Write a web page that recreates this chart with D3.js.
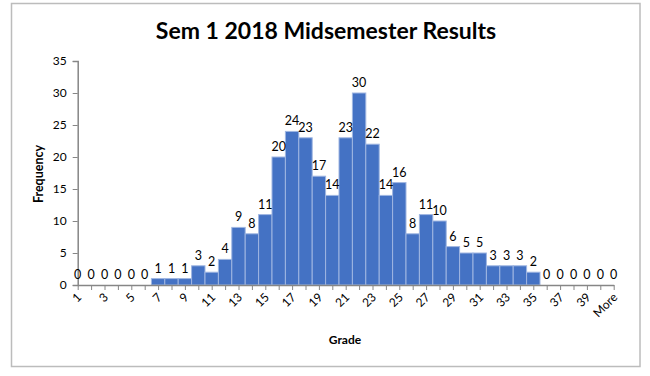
<!DOCTYPE html>
<html><head><meta charset="utf-8">
<script src="https://cdn.jsdelivr.net/npm/d3@7"></script>
<style>body{margin:0;background:#fff}</style>
</head><body><svg id="c" width="650" height="376"></svg>
<script>
const categories = ["1","2","3","4","5","6","7","8","9","10","11","12","13","14","15","16","17","18","19","20","21","22","23","24","25","26","27","28","29","30","31","32","33","34","35","36","37","38","39","40","More"];
const frequency = [0,0,0,0,0,0,1,1,1,3,2,4,9,8,11,20,24,23,17,14,23,30,22,14,16,8,11,10,6,5,5,3,3,3,2,0,0,0,0,0,0];
const yTicks = [0,5,10,15,20,25,30,35];
const titleText = "Sem 1 2018 Midsemester Results";
const xTitle = "Grade", yTitle = "Frequency";

const font = "Lato, 'Open Sans', sans-serif";
const svg = d3.select("#c");
svg.append("rect").attr("x",11.5).attr("y",3.5).attr("width",628.5).attr("height",363)
  .attr("fill","#fff").attr("stroke","#bcbcbc").attr("stroke-width",1.5);

const x = d3.scalePoint().domain(categories).range([77.7, 613.7]);
const y = d3.scaleLinear().domain([0,35]).range([285, 61]);
const step = x.step();

svg.append("text").attr("x",326).attr("y",39).attr("text-anchor","middle")
  .attr("font-family",font).attr("font-weight","bold").attr("font-size",23).attr("fill","#000").text(titleText);

// bars
svg.append("g").selectAll("rect").data(frequency).join("rect")
  .attr("x",(d,i)=>x(categories[i]) - step/2)
  .attr("y",d=>y(d)).attr("width",step).attr("height",d=>y(0)-y(d))
  .attr("fill","#4472C4").attr("stroke","#9fb6e2").attr("stroke-width",1);

// y axis
const ya = svg.append("g").attr("transform","translate(77.7,0)")
  .call(d3.axisLeft(y).tickValues(yTicks).tickSize(5).tickPadding(6));
ya.select(".domain").attr("stroke","#868686").attr("stroke-width",1.5);
ya.selectAll(".tick line").attr("stroke","#868686");
ya.selectAll("text").attr("font-family",font).attr("font-size",12).attr("fill","#000");

// x axis
const xa = svg.append("g").attr("transform","translate(0,285)")
  .call(d3.axisBottom(x).tickSize(5).tickSizeOuter(0)
    .tickFormat((d,i)=> i%2===0 ? d : ""));
xa.select(".domain").attr("stroke","#868686").attr("stroke-width",1.5);
xa.selectAll(".tick line").attr("stroke","#868686");
xa.selectAll("text").attr("font-family",font).attr("font-size",12).attr("fill","#000")
  .attr("text-anchor","end").attr("dy",0).attr("y",0)
  .attr("transform","translate(4,13) rotate(-45)");

// data labels
svg.append("g").selectAll("text").data(frequency).join("text")
  .attr("x",(d,i)=>x(categories[i])).attr("y",d=>y(d)-6)
  .attr("text-anchor","middle").attr("font-family",font).attr("font-size",12.5).attr("fill","#000")
  .text(d=>d);

svg.append("text").attr("x",345).attr("y",344).attr("text-anchor","middle")
  .attr("font-family",font).attr("font-weight","bold").attr("font-size",12).text(xTitle);
svg.append("text").attr("transform","translate(43,174) rotate(-90)").attr("text-anchor","middle")
  .attr("font-family",font).attr("font-weight","bold").attr("font-size",12.5).text(yTitle);
</script></body></html>
